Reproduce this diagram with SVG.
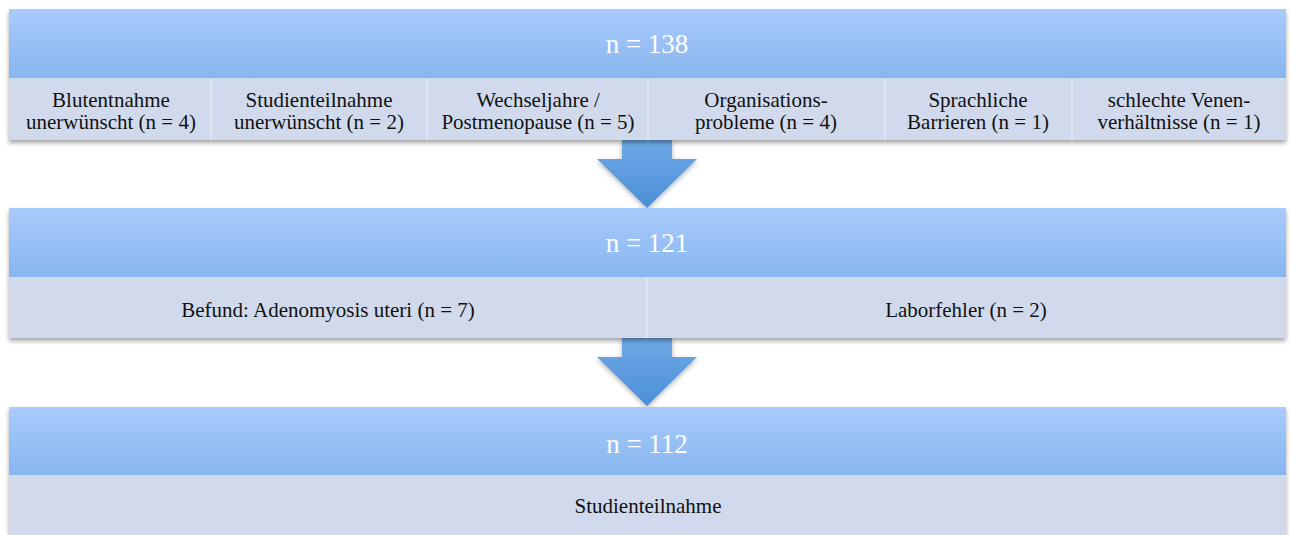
<svg xmlns="http://www.w3.org/2000/svg" width="1290" height="535" viewBox="0 0 1290 535">
<defs>
<linearGradient id="hdr" x1="0" y1="0" x2="0" y2="1">
<stop offset="0" stop-color="#a9cbfd"/>
<stop offset="1" stop-color="#87b6ee"/>
</linearGradient>
<linearGradient id="arr" x1="0" y1="0" x2="0" y2="1">
<stop offset="0" stop-color="#6fa9e7"/>
<stop offset="1" stop-color="#4b8fd8"/>
</linearGradient>
<filter id="sh" x="-5%" y="-10%" width="110%" height="130%">
<feDropShadow dx="0" dy="3" stdDeviation="2" flood-color="#000" flood-opacity="0.35"/>
</filter>
<filter id="ash" x="-20%" y="-20%" width="140%" height="150%">
<feDropShadow dx="0" dy="2" stdDeviation="2.5" flood-color="#000" flood-opacity="0.3"/>
</filter>
</defs>
<style>
.hdr{fill:url(#hdr)}
.cell{fill:#d0daec}
.div{stroke:#e4eaf5;stroke-width:1.5}
.ht{font-size:27px;fill:#ffffff;text-anchor:middle}
.ct{font-size:21px;fill:#111111;text-anchor:middle}
.arrow{fill:url(#arr);filter:url(#ash)}
</style>
<rect width="1290" height="535" fill="#ffffff"/>

<g id="connectors">
<path class="arrow" d="M622 140 H672 V159 H697 L647 208 L597 159 H622 Z"/>
<path class="arrow" d="M622 338 H672 V357 H697 L647 406 L597 357 H622 Z"/>
</g>

<g font-family="'Liberation Serif', 'Times New Roman', Times, 'DejaVu Serif', serif">
<g id="block1">
<g filter="url(#sh)">
<rect class="hdr" x="9" y="9" width="1277" height="69"/>
<rect class="cell" x="9" y="78" width="1277" height="62"/>
</g>
<text class="ht" x="647" y="53">n = 138</text>
<line class="div" x1="211" y1="79" x2="211" y2="140"/>
<line class="div" x1="427" y1="79" x2="427" y2="140"/>
<line class="div" x1="648" y1="79" x2="648" y2="140"/>
<line class="div" x1="885" y1="79" x2="885" y2="140"/>
<line class="div" x1="1072" y1="79" x2="1072" y2="140"/>
<g id="c1"><text class="ct" x="111" y="107">Blutentnahme</text><text class="ct" x="111" y="129">unerwünscht (n = 4)</text></g>
<g id="c2"><text class="ct" x="319" y="107">Studienteilnahme</text><text class="ct" x="319" y="129">unerwünscht (n = 2)</text></g>
<g id="c3"><text class="ct" x="538" y="107">Wechseljahre /</text><text class="ct" x="538" y="129">Postmenopause (n = 5)</text></g>
<g id="c4"><text class="ct" x="766" y="107">Organisations-</text><text class="ct" x="766" y="129">probleme (n = 4)</text></g>
<g id="c5"><text class="ct" x="978" y="107">Sprachliche</text><text class="ct" x="978" y="129">Barrieren (n = 1)</text></g>
<g id="c6"><text class="ct" x="1179" y="107">schlechte Venen-</text><text class="ct" x="1179" y="129">verhältnisse (n = 1)</text></g>
</g>

<g id="block2">
<g filter="url(#sh)">
<rect class="hdr" x="9" y="208" width="1277" height="69"/>
<rect class="cell" x="9" y="277" width="1277" height="61"/>
</g>
<text class="ht" x="647" y="252">n = 121</text>
<line class="div" x1="647" y1="278" x2="647" y2="338"/>
<g id="c7"><text class="ct" x="328" y="317">Befund: Adenomyosis uteri (n = 7)</text></g>
<g id="c8"><text class="ct" x="966" y="317">Laborfehler (n = 2)</text></g>
</g>

<g id="block3">
<g filter="url(#sh)">
<rect class="hdr" x="9" y="407" width="1277" height="68"/>
<rect class="cell" x="9" y="475" width="1277" height="65"/>
</g>
<text class="ht" x="647" y="453">n = 112</text>
<g id="c9"><text class="ct" x="648" y="513">Studienteilnahme</text></g>
</g>
</g>
</svg>
